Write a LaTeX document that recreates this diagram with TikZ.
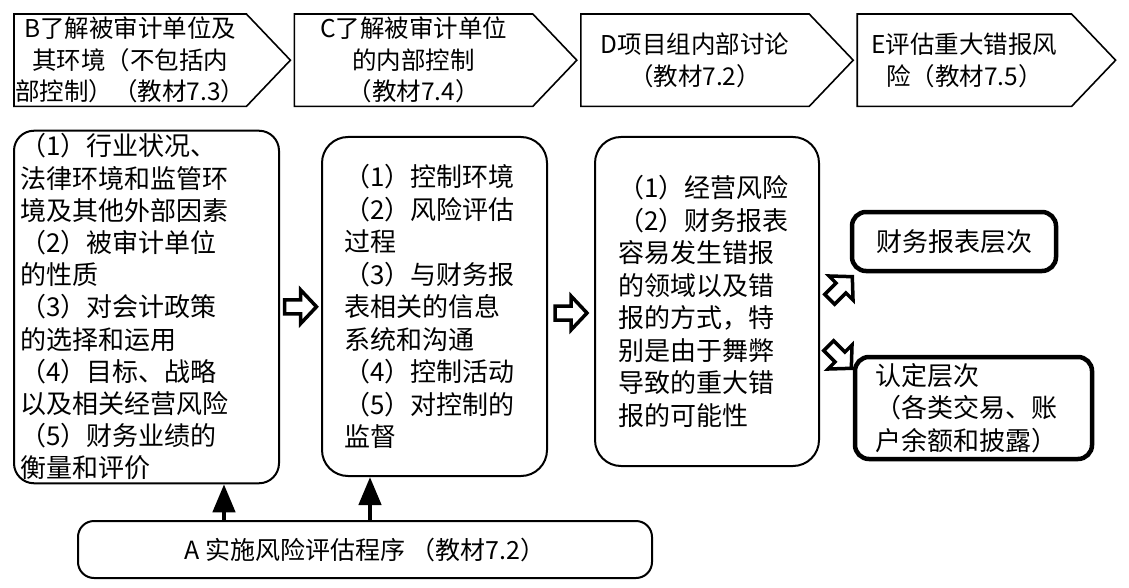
\documentclass[tikz,border=0pt]{standalone}
\usepackage{fontspec}
\setmainfont{Noto Sans CJK SC}
\usetikzlibrary{positioning,arrows.meta,calc}

\begin{document}
\begin{tikzpicture}[x=1pt,y=-1pt,
    stage/.style={minimum height=92pt,inner sep=0pt,align=center,
      font=\fontsize{24.5pt}{31.5pt}\selectfont},
    facts/.style={draw,line width=2pt,rounded corners=26pt,align=left,
      inner sep=3pt,font=\fontsize{26pt}{32.5pt}\selectfont},
    level/.style={draw,line width=4.5pt,rounded corners=14pt,align=left,
      inner sep=3pt,font=\fontsize{26pt}{32.5pt}\selectfont},
    hollow/.pic={\draw[line width=3.5pt,fill=white] (-16,-7) -- (0,-7) -- (0,-17)
        -- (16,0) -- (0,17) -- (0,7) -- (-16,7) -- cycle;},
    push/.style={line width=4.5pt,-{Triangle[length=28pt,width=22pt]}}]
    \useasboundingbox (0,0) rectangle (1129,588);
    % steps along the top
    \node[stage,minimum width=232pt,anchor=north west] (B) at (14,14)
        {B了解被审计单位及\\其环境（不包括内\\部控制）（教材7.3）};
    \node[stage,minimum width=238pt,right=48pt of B] (C)
        {C了解被审计单位\\的内部控制\\（教材7.4）};
    \node[stage,minimum width=228pt,right=48pt of C] (D)
        {D项目组内部讨论\\（教材7.2）};
    \node[stage,minimum width=214pt,right=48pt of D] (E)
        {E评估重大错报风\\险（教材7.5）};
    \foreach \n in {B,C,D,E}
        \draw[line width=1.6pt] (\n.north west) -- (\n.north east)
            -- ([xshift=44pt]\n.east) -- (\n.south east) -- (\n.south west) -- cycle;
    % contents
    \node[facts,rounded corners=20pt,minimum width=265pt,minimum height=352pt,
          text width=253pt,font=\fontsize{26pt}{32.2pt}\selectfont] (env) at (146.5,307)
        {（1）行业状况、\\法律环境和监管环\\境及其他外部因素\\（2）被审计单位\\的性质\\
         （3）对会计政策\\的选择和运用\\（4）目标、战略\\以及相关经营风险\\
         （5）财务业绩的\\衡量和评价};
    \node[facts,minimum width=225pt,minimum height=339pt,text width=180pt] (ic) at (434.5,306.5)
        {（1）控制环境\\（2）风险评估\\过程\\（3）与财务报\\表相关的信息\\系统和沟通\\
         （4）控制活动\\（5）对控制的\\监督};
    \node[facts,minimum width=224pt,minimum height=329pt,text width=178pt] (risk) at (707,301.5)
        {（1）经营风险\\（2）财务报表\\容易发生错报\\的领域以及错\\报的方式，特\\
         别是由于舞弊\\导致的重大错\\报的可能性};
    \node[level,align=center,minimum width=204pt,minimum height=59pt] (fs) at (954,241.5)
        {财务报表层次};
    \node[level,minimum width=237pt,minimum height=102pt,text width=196pt] (as) at (973.5,408)
        {认定层次\\（各类交易、账\\户余额和披露）};
    \node[draw,line width=2pt,rounded corners=16pt,minimum width=574pt,minimum height=57pt,
          font=\fontsize{25pt}{30pt}\selectfont] (A) at (365,549.5)
        {A 实施风险评估程序 （教材7.2）};
    % arrows
    \pic (h1) at ($(env.east)!.5!(ic.west)$) {hollow};
    \pic (h2) at ($(ic.east)!.5!(risk.west)+(0,9)$) {hollow};
    \pic[rotate=45] (h3) at (841,288) {hollow};
    \pic[rotate=-45] (h4) at (840,357) {hollow};
    \coordinate (a1) at ([xshift=-141pt]A.north);
    \coordinate (a2) at ([xshift=5pt]A.north);
    \draw[push] (a1) -- (a1 |- env.south);
    \draw[push] (a2) -- (a2 |- ic.south);
\end{tikzpicture}
\end{document}
